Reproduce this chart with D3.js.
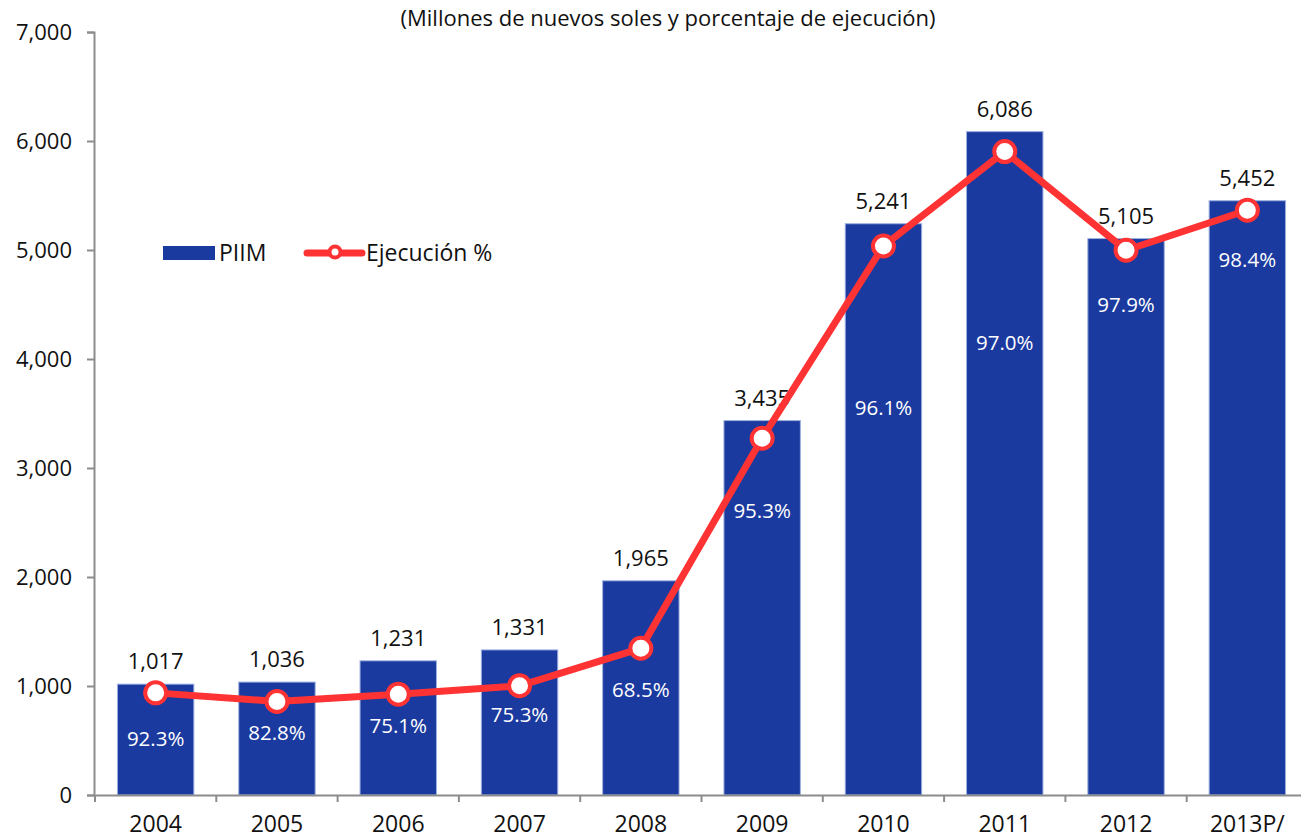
<!DOCTYPE html>
<html>
<head>
<meta charset="utf-8">
<script src="https://cdn.jsdelivr.net/npm/d3@7"></script>
<style>
  html, body { margin: 0; padding: 0; background: #fff; }
  svg { display: block; font-family: "Open Sans", "Noto Sans", sans-serif; }
</style>
</head>
<body>
<svg id="chart" width="1301" height="839"></svg>
<script>
// ---- Data ----
const categories = ["2004", "2005", "2006", "2007", "2008", "2009", "2010", "2011", "2012", "2013P/"];
const piim = [1017, 1036, 1231, 1331, 1965, 3435, 5241, 6086, 5105, 5452];
const ejecutado = [937, 858, 925, 1002, 1346, 3273, 5037, 5903, 4998, 5365];
const ejecucionPct = ["92.3%", "82.8%", "75.1%", "75.3%", "68.5%", "95.3%", "96.1%", "97.0%", "97.9%", "98.4%"];
const yTicks = [0, 1000, 2000, 3000, 4000, 5000, 6000, 7000];
const title = "(Millones de nuevos soles y porcentaje de ejecución)";
const legendLabels = ["PIIM", "Ejecución %"];

// ---- Layout ----
const svg = d3.select("#chart");
const x = d3.scaleBand().domain(categories).range([95, 1308]).paddingInner(0.37).paddingOuter(0.185);
const y = d3.scaleLinear().domain([0, 7000]).range([795, 32]);
// where the percentage labels sit, in axis units
const pctLabelAt = [514, 569, 633, 734, 963, 2606, 3550, 4147, 4495, 4908];

const barColor = "#1B3A9F";
const lineColor = "#FF3333";
const axisColor = "#8C8C8C";
const ff = "Open Sans, Noto Sans, sans-serif";

// title
svg.append("text").attr("x", 668).attr("y", 26).attr("text-anchor", "middle")
  .attr("font-size", 22).attr("fill", "#111").text(title);

// bars
svg.append("g").selectAll("rect").data(piim).join("rect")
  .attr("x", (d, i) => x(categories[i]))
  .attr("y", d => y(d))
  .attr("width", x.bandwidth())
  .attr("height", d => y(0) - y(d))
  .attr("fill", barColor)
  .attr("stroke", "#9DB0E0").attr("stroke-width", 1);

// value labels above bars
svg.append("g").selectAll("text").data(piim).join("text")
  .attr("x", (d, i) => x(categories[i]) + x.bandwidth() / 2)
  .attr("y", d => y(d) - 15)
  .attr("text-anchor", "middle").attr("font-size", 22).attr("fill", "#111")
  .text(d => d3.format(",")(d));

// y axis
const yAxis = svg.append("g").attr("transform", "translate(94,0)")
  .call(d3.axisLeft(y).tickValues(yTicks).tickFormat(d3.format(",")).tickSize(7).tickPadding(15));
yAxis.select(".domain").attr("stroke", axisColor).attr("stroke-width", 2);
yAxis.selectAll(".tick line").attr("stroke", axisColor).attr("stroke-width", 2);
yAxis.selectAll(".tick text").attr("font-size", 22).attr("fill", "#111").attr("font-family", ff);

// x axis
const xAxis = svg.append("g").attr("transform", "translate(0,795)")
  .call(d3.axisBottom(x).tickSize(0).tickPadding(21));
xAxis.select(".domain").attr("stroke", axisColor).attr("stroke-width", 2);
xAxis.selectAll(".tick text").attr("font-size", 23).attr("fill", "#111").attr("font-family", ff);
// category separator ticks
const seps = categories.map(c => x(c) - x.step() * x.paddingInner() / 2);
xAxis.append("g").selectAll("line").data(seps).join("line")
  .attr("x1", d => d).attr("x2", d => d).attr("y1", 0).attr("y2", 7)
  .attr("stroke", axisColor).attr("stroke-width", 2);

// line
const cx = (i) => x(categories[i]) + x.bandwidth() / 2;
const line = d3.line().x((d, i) => cx(i)).y(d => y(d));
svg.append("path").datum(ejecutado).attr("d", line)
  .attr("fill", "none").attr("stroke", lineColor).attr("stroke-width", 7)
  .attr("stroke-linejoin", "round");
svg.append("g").selectAll("circle").data(ejecutado).join("circle")
  .attr("cx", (d, i) => cx(i)).attr("cy", d => y(d)).attr("r", 10.5)
  .attr("fill", "#fff").attr("stroke", lineColor).attr("stroke-width", 4);

// percentage labels
svg.append("g").selectAll("text").data(ejecucionPct).join("text")
  .attr("x", (d, i) => cx(i))
  .attr("y", (d, i) => y(pctLabelAt[i]))
  .attr("dy", "0.35em")
  .attr("text-anchor", "middle").attr("font-size", 20.5).attr("fill", "#fff")
  .text(d => d);

// legend
const lg = svg.append("g");
lg.append("rect").attr("x", 163).attr("y", 246).attr("width", 52).attr("height", 14).attr("fill", barColor);
lg.append("text").attr("x", 219).attr("y", 253).attr("dy", "0.35em").attr("font-size", 23).attr("fill", "#111").text(legendLabels[0]);
lg.append("line").attr("x1", 307).attr("x2", 362).attr("y1", 253).attr("y2", 253)
  .attr("stroke", lineColor).attr("stroke-width", 7).attr("stroke-linecap", "round");
lg.append("circle").attr("cx", 335).attr("cy", 252).attr("r", 5.5).attr("fill", "#fff").attr("stroke", lineColor).attr("stroke-width", 4);
lg.append("text").attr("x", 366).attr("y", 253).attr("dy", "0.35em").attr("font-size", 23).attr("fill", "#111").text(legendLabels[1]);
</script>
</body>
</html>
